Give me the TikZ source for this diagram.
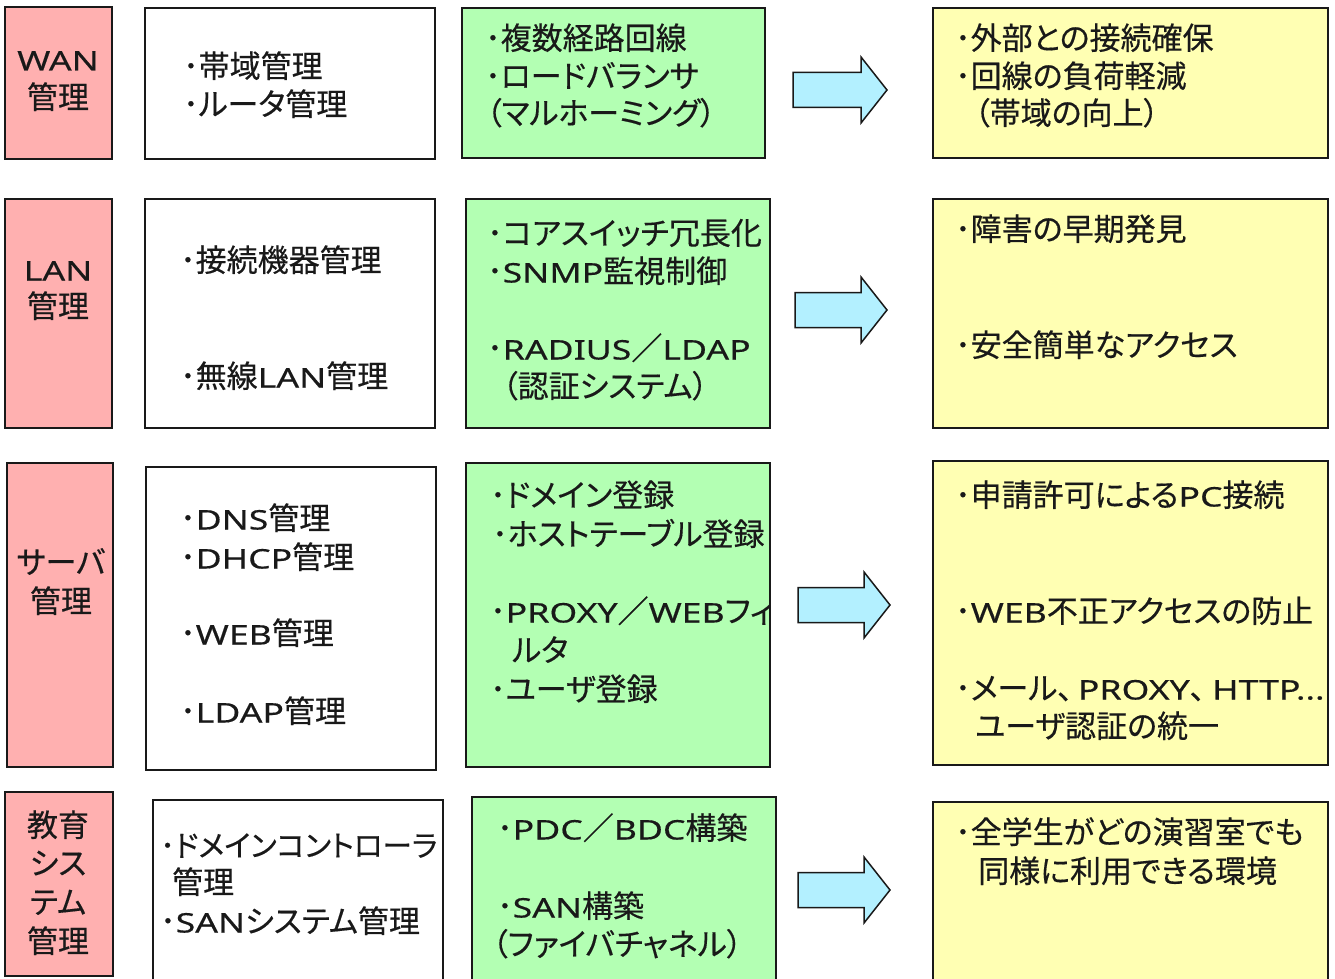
\documentclass[tikz,border=0pt]{standalone}
\usepackage{fontspec}
\usetikzlibrary{fit}
\newfontfamily\jp[RawFeature=+palt,FakeBold=0.4]{Noto Sans CJK JP}
\newfontfamily\latf[FakeStretch=1.32,FakeBold=0.4]{Noto Sans}
\newcommand\la[1]{{\latf\fontsize{27}{36}\selectfont #1}}
\definecolor{pinkc}{RGB}{255,176,176}
\definecolor{greenc}{RGB}{179,255,179}
\definecolor{yellowc}{RGB}{255,255,179}
\definecolor{cyanc}{RGB}{179,240,255}
\definecolor{ink}{RGB}{25,25,25}
\newcommand\mybox[6]{\node[box, fill=#2, fit={(#3,#4) (#5,#6)}] (#1) {};}
\newcommand\jline[4]{\node[txt] (#1) at (#2,#3+11.5) {#4};}
\newcommand\cjline[4]{\node[ctxt] (#1) at (#2,#3+11.5) {#4};}
\newcommand\myarrow[4]{%
  \coordinate (#1) at (#2,#4);
  \draw[barrow] (#1) ++(0,-17.5) -- ++({#3-#2-26},0) -- ++(0,-15.5) -- (#3,#4)
    -- ++(-26,33) -- ++(0,-15.5) -- ++({-(#3-#2-26)},0) -- cycle;}
\begin{document}
\begin{tikzpicture}[x=1pt,y=-1pt,
  box/.style={draw=ink, line width=1.8pt, inner sep=0pt},
  txt/.style={anchor=base west, inner sep=0pt, text=ink, font=\jp\fontsize{31}{36}\selectfont},
  ctxt/.style={txt, anchor=base},
  barrow/.style={draw=ink, line width=1.5pt, fill=cyanc, line join=miter}]
\clip (0,0) rectangle (1335,979);
\fill[white] (0,0) rectangle (1335,979);
% ---------- row 1 : WAN
\mybox{p1}{pinkc}{5}{7}{112}{159}
\mybox{w1}{white}{145}{8}{435}{159}
\mybox{g1}{greenc}{462}{8}{765}{158}
\mybox{y1}{yellowc}{933}{8}{1328}{158}
\myarrow{a1}{793}{887}{90}
\cjline{p1a}{58}{59}{\la{WAN}}
\cjline{p1b}{58}{97}{管理}
\jline{w1a}{183}{66}{･帯域管理}
\jline{w1b}{183}{104}{･ルータ管理}
\jline{g1a}{485}{38}{･複数経路回線}
\jline{g1b}{485}{76}{･ロードバランサ}
\jline{g1c}{486}{113}{（マルホーミング）}
\jline{y1a}{955}{38}{･外部との接続確保}
\jline{y1b}{955}{76}{･回線の負荷軽減}
\jline{y1c}{974}{113}{（帯域の向上）}
% ---------- row 2 : LAN
\mybox{p2}{pinkc}{5}{199}{112}{428}
\mybox{w2}{white}{145}{199}{435}{428}
\mybox{g2}{greenc}{466}{199}{770}{428}
\mybox{y2}{yellowc}{933}{199}{1328}{428}
\myarrow{a2}{795}{887}{310}
\cjline{p2a}{58}{269}{\la{LAN}}
\cjline{p2b}{58}{306}{管理}
\jline{w2a}{180}{260}{･接続機器管理}
\jline{w2b}{180}{376}{･無線\la{LAN}管理}
\jline{g2a}{487}{233}{･コアスイッチ冗長化}
\jline{g2b}{487}{271}{･\la{SNMP}監視制御}
\jline{g2c}{487}{348}{･\la{RADIUS}／\la{LDAP}}
\jline{g2d}{502}{386}{（認証システム）}
\jline{y2a}{955}{229}{･障害の早期発見}
\jline{y2b}{955}{345}{･安全簡単なアクセス}
% ---------- row 3 : server
\mybox{p3}{pinkc}{7}{463}{113}{767}
\mybox{w3}{white}{146}{467}{436}{770}
\mybox{g3}{greenc}{466}{463}{770}{767}
\mybox{y3}{yellowc}{933}{461}{1328}{765}
\myarrow{a3}{798}{890}{605}
\cjline{p3a}{61}{562}{サーバ}
\cjline{p3b}{61}{601}{管理}
\jline{w3a}{180}{518}{･\la{DNS}管理}
\jline{w3b}{180}{557}{･\la{DHCP}管理}
\jline{w3c}{180}{633}{･\la{WEB}管理}
\jline{w3d}{180}{711}{･\la{LDAP}管理}
\begin{scope}
\clip (g3.south west) rectangle (g3.north east);
\jline{g3a}{490}{495}{･ドメイン登録}
\jline{g3b}{492}{534}{･ホストテーブル登録}
\jline{g3c}{490}{611}{･\la{PROXY}／\la{WEB}フィ}
\jline{g3d}{512}{650}{ルタ}
\jline{g3e}{490}{689}{･ユーザ登録}
\end{scope}
\begin{scope}
\clip (y3.south west) rectangle (y3.north east);
\jline{y3a}{955}{495}{･申請許可による\la{PC}接続}
\jline{y3b}{955}{611}{･\la{WEB}不正アクセスの防止}
\jline{y3c}{955}{688}{･メール、\kern5pt\la{PROXY}、\kern7pt\la{HTTP...}}
\jline{y3d}{975}{726}{ユーザ認証の統一}
\end{scope}
% ---------- row 4 : education system
\mybox{p4}{pinkc}{5}{792}{113}{976}
\mybox{w4}{white}{153}{800}{443}{995}
\mybox{g4}{greenc}{472}{797}{776}{995}
\mybox{y4}{yellowc}{933}{802}{1328}{995}
\myarrow{a4}{798}{890}{890}
\cjline{p4a}{58}{825}{教育}
\cjline{p4b}{58}{863}{シス}
\cjline{p4c}{58}{902}{テム}
\cjline{p4d}{58}{941}{管理}
\jline{w4a}{160}{845}{\fontsize{29.6}{36}\selectfont ･ドメインコントローラ}
\jline{w4b}{172}{882}{管理}
\jline{w4c}{160}{921}{･\la{SAN}システム管理}
\jline{g4a}{497}{828}{･\la{PDC}／\la{BDC}構築}
\jline{g4b}{497}{906}{･\la{SAN}構築}
\jline{g4c}{492}{944}{（ファイバチャネル）}
\jline{y4a}{955}{832}{･全学生がどの演習室でも}
\jline{y4b}{978}{871}{同様に利用できる環境}
\end{tikzpicture}
\end{document}
